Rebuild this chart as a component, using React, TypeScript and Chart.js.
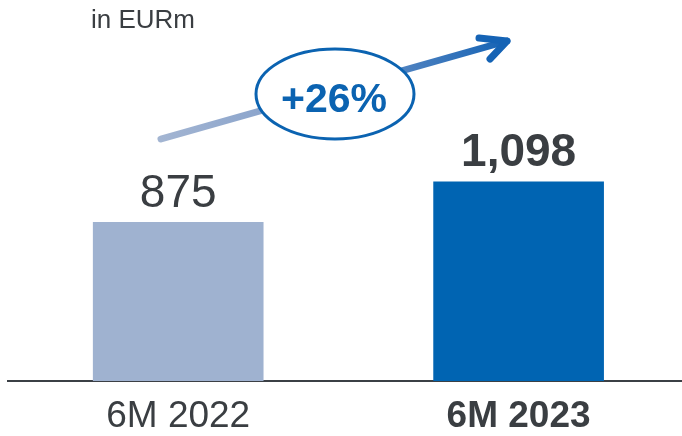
import React, { useEffect, useRef } from "react";
import { Chart, registerables } from "chart.js";

Chart.register(...registerables);

const categories = ["6M 2022", "6M 2023"];
const values = [875, 1098];
const valueLabels = ["875", "1,098"];
const unitLabel = "in EURm";
const growthLabel = "+26%";

const FONT = "'Liberation Sans', Arial, Helvetica, sans-serif";
const TEXT = "#3a3e42";
const LIGHT = "#9fb2d0";
const DARK = "#0064b2";
const ACCENT = "#0b63b1";

const overlay = {
  id: "overlay",
  afterDatasetsDraw(chart: any) {
    const ctx = chart.ctx as CanvasRenderingContext2D;
    const meta = chart.getDatasetMeta(0);
    ctx.save();
    meta.data.forEach((bar: any, i: number) => {
      ctx.font = `${i === 1 ? "bold " : ""}46px ${FONT}`;
      ctx.fillStyle = TEXT;
      ctx.textAlign = "center";
      ctx.textBaseline = "alphabetic";
      ctx.fillText(valueLabels[i], bar.x, bar.y - 15.5);
    });
    ctx.font = `26px ${FONT}`;
    ctx.fillStyle = TEXT;
    ctx.textAlign = "left";
    ctx.fillText(unitLabel, 91, 28);
    // arrow
    const x0 = 161, y0 = 139, x1 = 507, y1 = 41;
    const g = ctx.createLinearGradient(x0, y0, x1, y1);
    g.addColorStop(0, "#a3b5d2");
    g.addColorStop(0.45, "#7f9cc9");
    g.addColorStop(1, "#1563b5");
    ctx.strokeStyle = g;
    ctx.lineWidth = 7;
    ctx.lineCap = "round";
    ctx.lineJoin = "round";
    ctx.beginPath();
    ctx.moveTo(x0, y0);
    ctx.lineTo(x1, y1);
    ctx.stroke();
    ctx.strokeStyle = "#1563b5";
    ctx.beginPath();
    ctx.moveTo(479, 38);
    ctx.lineTo(x1, y1);
    ctx.lineTo(490, 59);
    ctx.stroke();
    // ellipse
    ctx.beginPath();
    ctx.ellipse(335, 94, 79, 45, 0, 0, Math.PI * 2);
    ctx.fillStyle = "#ffffff";
    ctx.fill();
    ctx.lineWidth = 3;
    ctx.strokeStyle = ACCENT;
    ctx.stroke();
    ctx.font = `bold 41px ${FONT}`;
    ctx.fillStyle = ACCENT;
    ctx.textAlign = "center";
    ctx.fillText(growthLabel, 334, 111.5);
    ctx.restore();
  },
};

export default function App() {
  const ref = useRef<HTMLCanvasElement>(null);
  useEffect(() => {
    if (!ref.current) return;
    const chart = new Chart(ref.current, {
      type: "bar",
      data: {
        datasets: [
          {
            data: values.map((v, i) => ({ x: i, y: v })),
            backgroundColor: [LIGHT, DARK],
            barThickness: 170,
            borderWidth: 0,
          },
        ],
      },
      options: {
        animation: false,
        responsive: true,
        maintainAspectRatio: false,
        layout: { padding: { left: 8, right: 0, top: 0, bottom: 0 } },
        plugins: { legend: { display: false }, tooltip: { enabled: false } },
        scales: {
          x: {
            type: "linear",
            min: -0.5,
            max: 1.48,
            offset: false,
            grid: { display: false, drawTicks: false, offset: false },
            border: { display: true, color: "#3b4045", width: 2 },
            afterBuildTicks: (scale: any) => {
              scale.ticks = categories.map((_, i) => ({ value: i }));
            },
            afterFit: (scale: any) => {
              scale.height = 55;
            },
            ticks: {
              autoSkip: false,
              maxRotation: 0,
              padding: 14,
              color: TEXT,
              callback: (v: any) => categories[v as number] ?? "",
              font: (c: any) => ({
                family: FONT,
                size: 37,
                weight: c.index === 1 ? "bold" : "normal",
                lineHeight: 1.2,
              }),
            },
          },
          y: { display: false, min: 0, max: 2100 },
        },
      },
      plugins: [overlay],
    });
    return () => chart.destroy();
  }, []);
  return (
    <div style={{ position: "fixed", left: 0, top: 0, width: 682, height: 436, background: "#fff" }}>
      <canvas ref={ref} />
    </div>
  );
}
